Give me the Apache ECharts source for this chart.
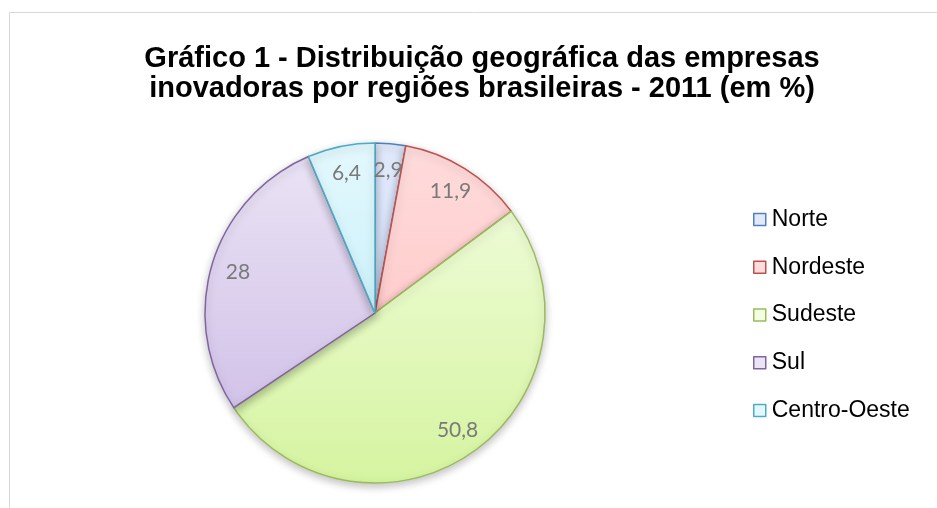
<!DOCTYPE html>
<html>
<head>
<meta charset="utf-8">
<script src="https://cdn.jsdelivr.net/npm/echarts@6/dist/echarts.min.js"></script>
<style>
  html, body { margin: 0; padding: 0; background: #ffffff; }
  #chart { width: 937px; height: 508px; }
</style>
</head>
<body>
<div id="chart"></div>
<script>
// dados do gráfico
const regioes = ['Norte', 'Nordeste', 'Sudeste', 'Sul', 'Centro-Oeste'];
const valores = [2.9, 11.9, 50.8, 28, 6.4];
const rotulos = ['2,9', '11,9', '50,8', '28', '6,4'];

// cores (topo, base, borda) de cada fatia
const corTopo = ['#e1e9fb', '#ffdcdc', '#f3fde2', '#ebe4f5', '#e3f8fd'];
const corBase = ['#c3d3f6', '#ffbcbc', '#d5f4a0', '#cbb9e5', '#b5ebf8'];
const corBorda = ['#4f81bd', '#c0504d', '#9bbb59', '#8064a2', '#4bacc6'];

const cx = 375, cy = 313, raio = 170;

const myChart = echarts.init(document.getElementById('chart'), null, { renderer: 'canvas' });

const gradiente = (i) => ({
  type: 'linear', x: 0, y: cy - raio, x2: 0, y2: cy + raio, global: true,
  colorStops: [
    { offset: 0, color: corTopo[i] },
    { offset: 1, color: corBase[i] }
  ]
});

const option = {
  animation: false,
  graphic: [
    {
      type: 'rect',
      shape: { x: 9.5, y: 12.5, width: 1000, height: 1000 },
      style: { fill: 'none', stroke: '#d9d9d9', lineWidth: 1 },
      silent: true
    }
  ],
  title: {
    text: 'Gráfico 1 - Distribuição geográfica das empresas\ninovadoras por regiões brasileiras - 2011 (em %)',
    left: 477,
    top: 39,
    textAlign: 'center',
    textStyle: {
      fontFamily: 'Liberation Sans, Arial, sans-serif',
      fontSize: 29,
      fontWeight: 'bold',
      lineHeight: 30,
      color: '#000000'
    }
  },
  legend: {
    orient: 'vertical',
    left: 748,
    top: 203,
    itemGap: 24.75,
    itemWidth: 12,
    itemHeight: 12,
    icon: 'rect',
    textStyle: {
      fontFamily: 'Liberation Sans, Arial, sans-serif',
      fontSize: 23,
      color: '#000000',
      padding: [0, 0, 0, 1]
    },
    data: regioes.map((n, i) => ({
      name: n,
      itemStyle: { color: corTopo[i], borderColor: corBorda[i], borderWidth: 1.5 }
    }))
  },
  series: [
    {
      name: 'regioes',
      type: 'pie',
      center: [cx, cy],
      radius: [0, raio],
      startAngle: 90,
      clockwise: true,
      label: { show: false },
      labelLine: { show: false },
      emphasis: { disabled: true },
      data: regioes.map((n, i) => ({
        name: n,
        value: valores[i],
        itemStyle: {
          color: gradiente(i),
          borderColor: corBorda[i],
          borderWidth: 1.5,
          shadowBlur: 8,
          shadowOffsetY: 3,
          shadowColor: 'rgba(0,0,0,0.25)'
        }
      }))
    },
    {
      name: 'rotulos',
      type: 'pie',
      center: [cx, cy],
      radius: [110, raio],
      startAngle: 90,
      clockwise: true,
      silent: true,
      legendHoverLink: false,
      itemStyle: { color: 'rgba(0,0,0,0)', borderWidth: 0 },
      label: {
        show: true,
        position: 'inside',
        fontFamily: 'Lato, Open Sans, sans-serif',
        fontSize: 21,
        color: '#7a7a7a',
        formatter: (p) => rotulos[p.dataIndex]
      },
      labelLine: { show: false },
      data: regioes.map((n, i) => ({ name: n, value: valores[i] }))
    }
  ]
};

myChart.setOption(option);
</script>
</body>
</html>
